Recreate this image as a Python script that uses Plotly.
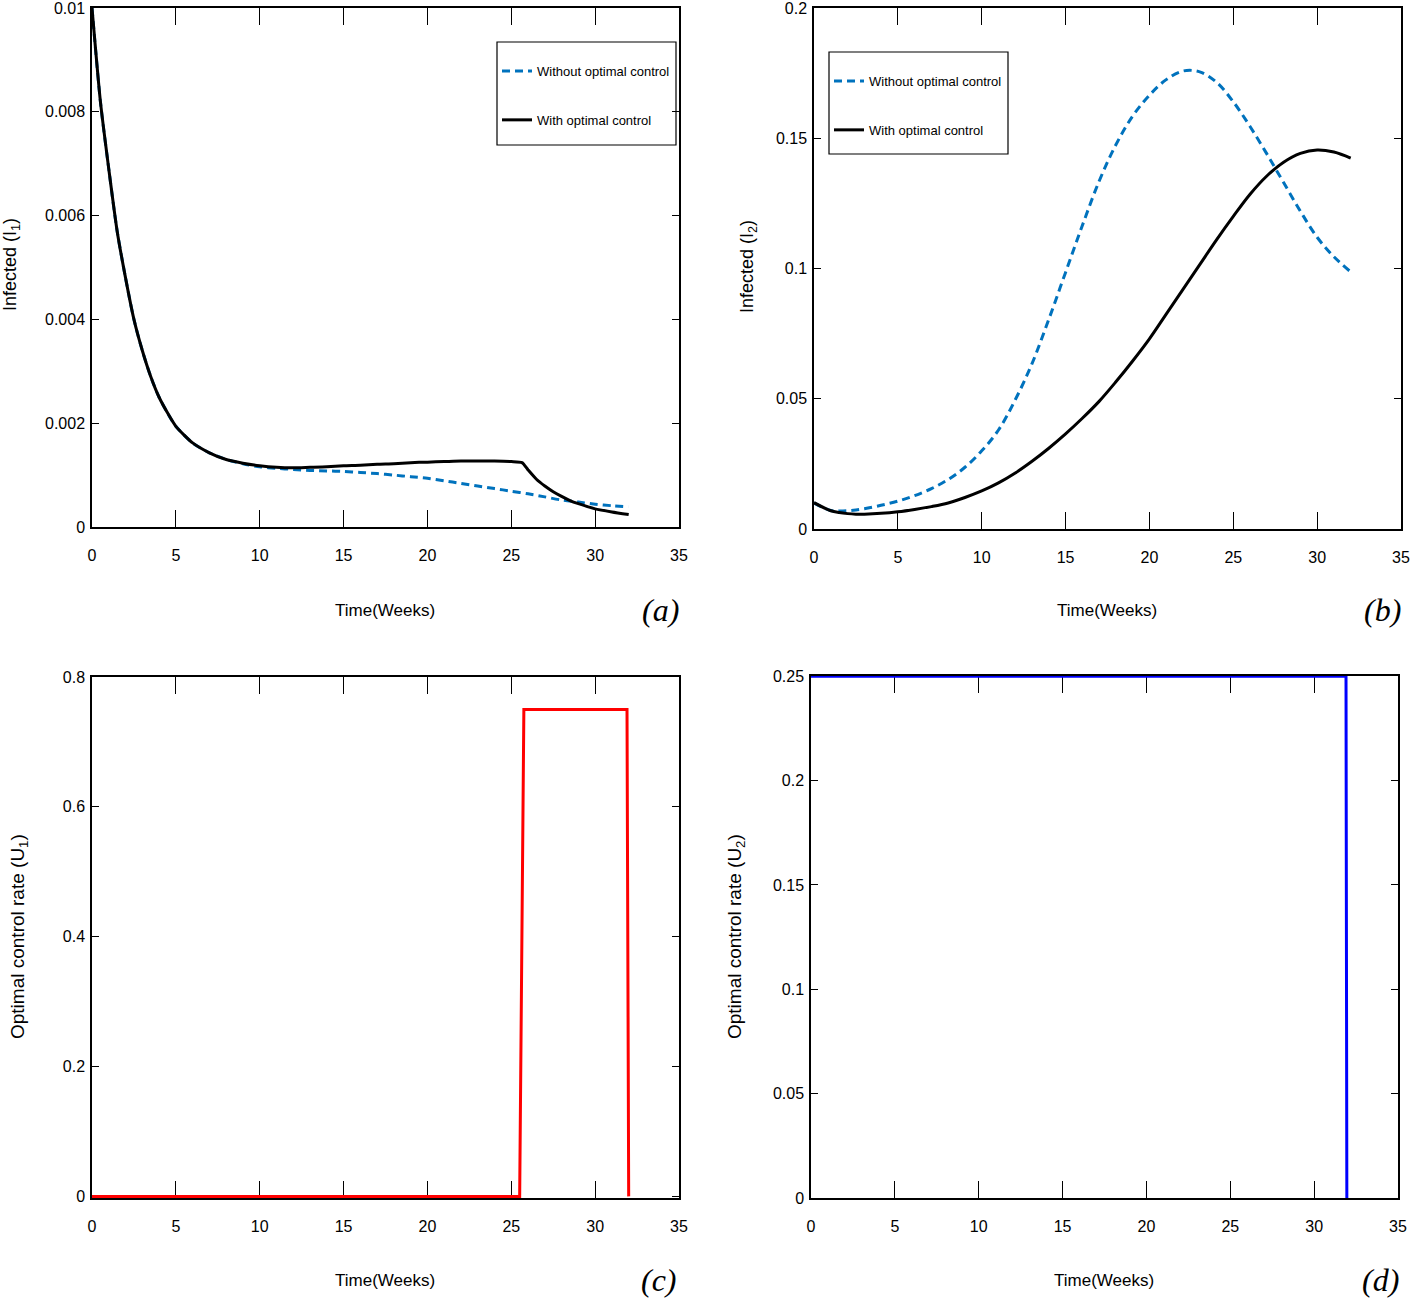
import plotly.graph_objects as go

# ---------------- data ----------------
# Panel (a): Infected I1
a_t = [0, 0.5, 1, 1.5, 2, 2.5, 3, 3.5, 4, 4.5, 5, 6, 7, 8, 9,
       10, 11, 12, 13, 14, 15, 16, 17, 18, 19, 20, 21, 22, 23, 24, 25, 26, 27,
       28, 29, 30, 31, 32]
a_without = [0.0100, 0.0082, 0.0069, 0.0057, 0.0048, 0.0040, 0.0034, 0.0029, 0.0025,
             0.0022, 0.00194, 0.00162, 0.00143, 0.00130, 0.00122,
             0.00116, 0.00113, 0.00111, 0.00109, 0.00108, 0.00107, 0.00105, 0.00103,
             0.00100, 0.00097, 0.00094, 0.00089, 0.00084, 0.00079, 0.00074, 0.00069,
             0.00064, 0.00058, 0.00052, 0.00048, 0.00044, 0.00041, 0.00039]
aw_t = [0, 0.5, 1, 1.5, 2, 2.5, 3, 3.5, 4, 4.5, 5, 6, 7, 8, 9,
        10, 11, 12, 13, 14, 15, 16, 17, 18, 19, 20, 21, 22, 23, 24, 25, 25.64,
        26, 26.5, 27, 27.5, 28, 28.5, 29, 30, 31, 32]
a_with = [0.0100, 0.0082, 0.0069, 0.0057, 0.0048, 0.0040, 0.0034, 0.0029, 0.0025,
          0.0022, 0.00194, 0.00162, 0.00143, 0.00130, 0.00123,
          0.00118, 0.00115, 0.00114, 0.00115, 0.00116, 0.00118, 0.00119, 0.00121,
          0.00122, 0.00124, 0.00125, 0.00126, 0.00127, 0.00127, 0.00127, 0.00126,
          0.00124, 0.00110, 0.00092, 0.00079, 0.00068, 0.00059, 0.00051, 0.00045,
          0.00035, 0.00029, 0.00024]

# Panel (b): Infected I2
b_t = [0, 1, 1.5, 2, 2.5, 3, 4, 5, 6, 7, 8, 9, 10, 11, 12, 13, 14, 15, 16, 17, 18, 19,
       20, 21, 22, 23, 24, 25, 26, 27, 28, 29, 30, 31, 32]
b_without = [0.0100, 0.0071, 0.0069, 0.0070, 0.0073, 0.0078, 0.0091, 0.0107, 0.0128,
             0.0155, 0.0190, 0.0237, 0.0300, 0.0380, 0.0496, 0.0635, 0.0805, 0.0985,
             0.1165, 0.1335, 0.1475, 0.1585, 0.1665, 0.1725, 0.1758, 0.1755, 0.1715,
             0.1640, 0.1545, 0.1440, 0.1330, 0.1220, 0.1120, 0.1045, 0.0987]
b_with = [0.0101, 0.0070, 0.0063, 0.0059, 0.0057, 0.0057, 0.0060, 0.0066, 0.0075,
          0.0086, 0.0100, 0.0121, 0.0146, 0.0177, 0.0215, 0.0260, 0.0310, 0.0365,
          0.0425, 0.0490, 0.0565, 0.0645, 0.0730, 0.0825, 0.0920, 0.1015, 0.1110,
          0.1200, 0.1285, 0.1355, 0.1408, 0.1442, 0.1455, 0.1447, 0.1424]

# Panel (c): control U1
c_t = [0, 25.5, 25.75, 31.9, 32.0]
c_u1 = [0, 0, 0.75, 0.75, 0]

# Panel (d): control U2
d_t = [0, 31.9, 31.95]
d_u2 = [0.25, 0.25, 0]

x_ticks = [0, 5, 10, 15, 20, 25, 30, 35]
ya_ticks = [0, 0.002, 0.004, 0.006, 0.008, 0.01]
yb_ticks = [0, 0.05, 0.1, 0.15, 0.2]
yc_ticks = [0, 0.2, 0.4, 0.6, 0.8]
yd_ticks = [0, 0.05, 0.1, 0.15, 0.2, 0.25]

# ---------------- figure ----------------
W, H = 1410, 1298
SANS = "Liberation Sans, Arial, Helvetica, sans-serif"
SERIF = "Liberation Serif, DejaVu Serif, serif"
BLUE_D = "#0072BD"

def px(x):
    return x / W

def py(y):
    return 1 - y / H

fig = go.Figure()

fig.add_trace(go.Scatter(x=a_t, y=a_without, mode="lines", name="Without optimal control",
                         line=dict(color=BLUE_D, width=3, dash="8px,5px", shape="spline", smoothing=0.8),
                         xaxis="x", yaxis="y", legend="legend", legendgroup="a1"))
fig.add_trace(go.Scatter(x=aw_t, y=a_with, mode="lines", name="With optimal control",
                         line=dict(color="black", width=3, shape="spline", smoothing=0.6),
                         xaxis="x", yaxis="y", legend="legend", legendgroup="a2"))
fig.add_trace(go.Scatter(x=b_t, y=b_without, mode="lines", name="Without optimal control",
                         line=dict(color=BLUE_D, width=3, dash="8px,5px", shape="spline"),
                         xaxis="x2", yaxis="y2", legend="legend2", legendgroup="b1"))
fig.add_trace(go.Scatter(x=b_t, y=b_with, mode="lines", name="With optimal control",
                         line=dict(color="black", width=3, shape="spline"),
                         xaxis="x2", yaxis="y2", legend="legend2", legendgroup="b2"))
fig.add_trace(go.Scatter(x=c_t, y=c_u1, mode="lines", showlegend=False,
                         line=dict(color="red", width=3), xaxis="x3", yaxis="y3"))
fig.add_trace(go.Scatter(x=d_t, y=d_u2, mode="lines", showlegend=False,
                         line=dict(color="blue", width=3), xaxis="x4", yaxis="y4"))

def xax(dom, anchor):
    return dict(domain=dom, anchor=anchor, range=[0, 35], tickvals=x_ticks,
                ticks="inside", ticklen=17, tickwidth=1.3, tickcolor="black",
                showline=True, linecolor="black", linewidth=1.5, mirror="ticks",
                showgrid=False, zeroline=False, ticklabelstandoff=13,
                ticklabeloverflow="allow",
                tickfont=dict(family=SANS, size=16, color="black"), layer="below traces")

def yax(dom, anchor, rng, tv):
    return dict(domain=dom, anchor=anchor, range=rng, tickvals=tv,
                ticks="inside", ticklen=7, tickwidth=1.3, tickcolor="black",
                showline=True, linecolor="black", linewidth=1.5, mirror="ticks",
                showgrid=False, zeroline=False, ticklabelstandoff=2,
                ticklabeloverflow="allow",
                tickfont=dict(family=SANS, size=16, color="black"), layer="below traces")

legend_common = dict(xanchor="left", yanchor="top", borderwidth=0,
                     bgcolor="rgba(0,0,0,0)", font=dict(family=SANS, size=13, color="black"),
                     tracegroupgap=29, traceorder="grouped", itemwidth=30)

fig.update_layout(
    width=W, height=H, margin=dict(l=0, r=0, t=0, b=0, autoexpand=False),
    paper_bgcolor="white", plot_bgcolor="white",
    xaxis=xax([px(92), px(679)], "y"),
    yaxis=yax([py(527), py(8)], "x", [0, 0.01], ya_ticks),
    xaxis2=xax([px(814), px(1401)], "y2"),
    yaxis2=yax([py(529), py(8)], "x2", [0, 0.2], yb_ticks),
    xaxis3=xax([px(92), px(679)], "y3"),
    yaxis3=yax([py(1198), py(677)], "x3", [-0.0025, 0.8], yc_ticks),
    xaxis4=xax([px(811), px(1398)], "y4"),
    yaxis4=yax([py(1198), py(676)], "x4", [0, 0.2501], yd_ticks),
    legend=dict(x=px(497), y=py(56), **legend_common),
    legend2=dict(x=px(829), y=py(66), **legend_common),
)

# legend frames
frames = [(497, 42, 676, 145), (829, 52, 1008, 154)]
fig.update_layout(shapes=[dict(type="rect", xref="paper", yref="paper",
                               x0=px(x0), x1=px(x1), y0=py(y1), y1=py(y0),
                               line=dict(color="black", width=1.2), fillcolor="rgba(0,0,0,0)",
                               layer="above")
                          for x0, y0, x1, y1 in frames])

ann = []
def add_ann(text, x, y, size, family, angle=0, italic=False):
    t = f"<i>{text}</i>" if italic else text
    ann.append(dict(text=t, x=px(x), y=py(y), xref="paper", yref="paper",
                    showarrow=False, textangle=angle, xanchor="center", yanchor="middle",
                    font=dict(family=family, size=size, color="black")))

add_ann("Infected (I<sub>1</sub>)", 11, 265, 18, SANS, -90)
add_ann("Infected (I<sub>2</sub>)", 749, 267, 18, SANS, -90)
add_ann("Optimal control rate (U<sub>1</sub>)", 19, 937, 19, SANS, -90)
add_ann("Optimal control rate (U<sub>2</sub>)", 736, 937, 19, SANS, -90)
for xx, yy in [(385, 610), (1107, 610), (385, 1280), (1104, 1280)]:
    add_ann("Time(Weeks)", xx, yy, 17, SANS)
add_ann("(a)", 660, 610, 32, SERIF, italic=True)
add_ann("(b)", 1382, 610, 32, SERIF, italic=True)
add_ann("(c)", 659, 1280, 32, SERIF, italic=True)
add_ann("(d)", 1380, 1280, 32, SERIF, italic=True)
fig.update_layout(annotations=ann)

fig.write_html("out.html", config={"displayModeBar": False},
               post_script="document.body.style.margin='0px';document.body.style.overflow='hidden';")
